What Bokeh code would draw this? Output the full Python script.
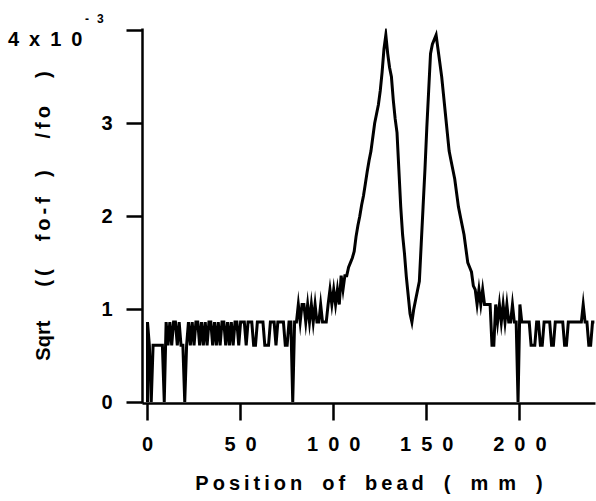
from bokeh.plotting import figure
from bokeh.models import Range1d, FixedTicker, Label
from bokeh.embed import file_html
from bokeh.resources import INLINE

# ---- data (bead position in mm, sqrt((fo-f)/fo) in units of 1e-3) ----
position_mm = [0] + list(range(0, 241))
sqrt_shift = [0.0] + [
    0.86, 0.61, 0.0, 0.61, 0.61, 0.61, 0.61, 0.61, 0.61, 0.0,
    0.86, 0.61, 0.86, 0.61, 0.86, 0.86, 0.61, 0.86, 0.61, 0.61,
    0.0, 0.61, 0.86, 0.61, 0.86, 0.61, 0.86, 0.86, 0.61, 0.86,
    0.61, 0.86, 0.61, 0.86, 0.86, 0.61, 0.86, 0.61, 0.86, 0.61,
    0.86, 0.86, 0.61, 0.86, 0.61, 0.86, 0.61, 0.86, 0.86, 0.61,
    0.86, 0.86, 0.86, 0.61, 0.86, 0.86, 0.86, 0.61, 0.61, 0.86,
    0.86, 0.86, 0.86, 0.61, 0.61, 0.61, 0.86, 0.86, 0.86, 0.61,
    0.86, 0.86, 0.86, 0.86, 0.61, 0.61, 0.86, 0.86, 0.0, 0.86,
    0.86, 1.05, 0.86, 1.05, 1.05, 0.86, 1.05, 0.86, 1.05, 0.86,
    1.05, 0.86, 0.86, 1.05, 0.86, 0.86, 0.86, 1.05, 1.21, 1.05,
    1.21, 1.05, 1.21, 1.05, 1.36, 1.21, 1.36, 1.36, 1.45, 1.50,
    1.55, 1.62, 1.78, 1.90, 2.00, 2.12, 2.22, 2.35, 2.48, 2.60,
    2.70, 2.85, 3.00, 3.10, 3.20, 3.35, 3.55, 3.80, 3.95, 3.75,
    3.60, 3.50, 3.25, 3.05, 2.90, 2.50, 2.10, 1.80, 1.60, 1.35,
    1.15, 0.95, 0.86, 1.00, 1.10, 1.20, 1.30, 1.70, 2.10, 2.50,
    2.95, 3.35, 3.75, 3.85, 3.90, 3.95, 3.80, 3.65, 3.50, 3.30,
    3.10, 2.90, 2.70, 2.60, 2.50, 2.40, 2.25, 2.10, 2.00, 1.90,
    1.80, 1.65, 1.50, 1.45, 1.40, 1.25, 1.21, 1.05, 1.21, 1.05,
    1.21, 1.05, 1.05, 1.05, 1.05, 0.61, 0.61, 1.05, 0.86, 1.05,
    0.86, 1.05, 0.86, 1.05, 0.86, 0.86, 1.05, 0.86, 0.86, 0.0,
    1.05, 0.86, 0.86, 0.86, 0.86, 0.86, 0.61, 0.61, 0.61, 0.86,
    0.86, 0.61, 0.61, 0.86, 0.86, 0.86, 0.86, 0.61, 0.61, 0.86,
    0.86, 0.86, 0.86, 0.86, 0.61, 0.61, 0.86, 0.86, 0.86, 0.86,
    0.86, 0.86, 0.86, 0.86, 1.05, 0.86, 0.86, 0.61, 0.61, 0.86, 0.86,
]

TS = "\u2009"   # thin space
EN = "\u2002"   # en space
EM = "\u2003"   # em space

x_ticks = [0, 50, 100, 150, 200]
x_tick_labels = ["0", "5" + EN + "0", "1" + EN + "0" + EN + "0",
                 "1" + EN + "5" + EN + "0", "2" + EN + "0" + EN + "0"]
y_ticks = [0, 1, 2, 3, 4]
y_tick_labels = ["0", "1", "2", "3", ""]
multiplier_text = "4" + EN + "x" + EN + "1" + EN + "0"
exponent_sign = "-"
exponent_digit = "3"

x_title = (TS.join("Position") + EM + TS.join("of") + EM + TS.join("bead") + EM + "(" + EM
           + "m" + EN + "m" + EM + ")")
y_title = ("Sqrt" + EM + EN + TS + "(" + TS + "(" + EM + TS + TS + TS.join("fo-f") + EM + ")"
           + EM + TS * 3 + TS.join("/fo") + EM + TS * 2 + ")")

FONT = "Liberation Sans"
FS = "20px"

X0, X1 = -2.685, 240.6
Y0, Y1 = -0.016, 4.020
FRAME_L, FRAME_W, FRAME_B, FRAME_H = 142, 453, 403, 375

p = figure(width=596, height=501, output_backend="svg", toolbar_location=None,
           x_range=Range1d(X0, X1), y_range=Range1d(Y0, Y1),
           min_border_left=FRAME_L, min_border_right=1, min_border_top=28, min_border_bottom=98)
p.background_fill_color = "white"
p.border_fill_color = "white"
p.outline_line_color = None
p.xgrid.visible = False
p.ygrid.visible = False

p.line(position_mm, sqrt_shift, line_color="black", line_width=3, line_join="miter")

for ax in (p.xaxis[0], p.yaxis[0]):
    ax.axis_line_width = 2.5
    ax.major_tick_line_width = 2.5
    ax.minor_tick_line_color = None
    ax.major_tick_in = 0
    ax.major_label_text_font = FONT
    ax.major_label_text_font_size = FS
    ax.major_label_text_font_style = "bold"
    ax.major_label_text_color = "black"
    ax.axis_label_text_font = FONT
    ax.axis_label_text_font_size = FS
    ax.axis_label_text_font_style = "bold"
    ax.axis_label_text_color = "black"

p.xaxis.ticker = FixedTicker(ticks=x_ticks)
p.xaxis.major_label_overrides = {t: l for t, l in zip(x_ticks, x_tick_labels)}
p.xaxis.major_tick_out = 17
p.xaxis.major_label_standoff = 12
p.xaxis.axis_label = x_title
p.xaxis.axis_label_standoff = 14

p.yaxis.ticker = FixedTicker(ticks=y_ticks)
p.yaxis.major_label_overrides = {t: l for t, l in zip(y_ticks, y_tick_labels)}
p.yaxis.major_tick_out = 16
p.yaxis.major_label_standoff = 14
p.yaxis.axis_label = y_title
p.yaxis.axis_label_standoff = 44

# multiplier "4 x 10^-3" placed beside the top tick (labels live in side panels so they are not clipped)
def data_x(px):
    return X0 + (px - FRAME_L) * (X1 - X0) / FRAME_W
def data_y(py):
    return Y0 + (FRAME_B - py) * (Y1 - Y0) / FRAME_H

p.add_layout(Label(x=data_x(7.5), y=data_y(38), text=multiplier_text,
                   text_font=FONT, text_font_size=FS, text_font_style="bold",
                   text_color="black", text_baseline="alphabetic", text_align="left"), "above")
p.add_layout(Label(x=data_x(84.5), y=data_y(18), text=exponent_sign,
                   text_font=FONT, text_font_size="12px", text_font_style="bold",
                   text_color="black", text_baseline="alphabetic", text_align="left"), "left")
p.add_layout(Label(x=data_x(96.5), y=data_y(18), text=exponent_digit,
                   text_font=FONT, text_font_size="12px", text_font_style="bold",
                   text_color="black", text_baseline="alphabetic", text_align="left"), "left")

open("out.html", "w").write(file_html(p, INLINE))
